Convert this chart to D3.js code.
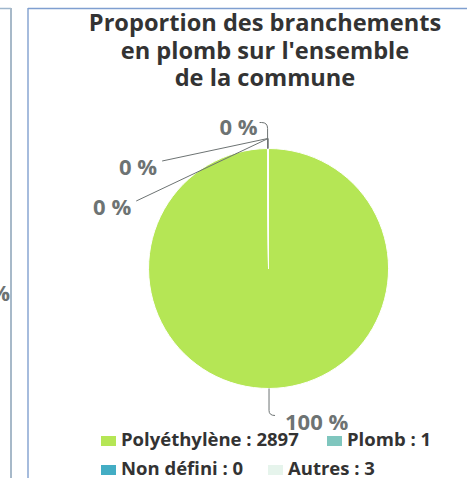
<!DOCTYPE html>
<html>
<head>
<meta charset="utf-8">
<script src="https://cdn.jsdelivr.net/npm/d3@7"></script>
<style>
  body { margin: 0; background: #fff; }
  text { font-family: "Open Sans", "Noto Sans", sans-serif; font-weight: bold; }
</style>
</head>
<body>
<script>
var width = 467,
    height = 478;

// data
var categories = ['Polyéthylène', 'Plomb', 'Non défini', 'Autres'];
var values = [2897, 1, 0, 3];
var colors = ['#b5e655', '#7fc6be', '#43adc4', '#e6f4ec'];
var titleLines = ['Proportion des branchements', "en plomb sur l'ensemble", 'de la commune'];

var svg = d3.select('body')
            .append('svg')
            .attr('width', width)
            .attr('height', height);

// panel borders (left panel cut off, current panel)
svg.append('line').attr('x1', 0).attr('x2', 11).attr('y1', 8.5).attr('y2', 8.5)
    .attr('stroke', '#9fb6cc').attr('stroke-width', 1.5);
svg.append('line').attr('x1', 11).attr('x2', 11).attr('y1', 8).attr('y2', height)
    .attr('stroke', '#a7b9c9').attr('stroke-width', 2);
svg.append('line').attr('x1', 28).attr('x2', 28).attr('y1', 8).attr('y2', height)
    .attr('stroke', '#89a6d2').attr('stroke-width', 1.5);
svg.append('line').attr('x1', 28).attr('x2', width).attr('y1', 8.5).attr('y2', 8.5)
    .attr('stroke', '#7f9fd0').attr('stroke-width', 1.5);

// bit of the neighbouring chart's label
svg.append('text').attr('x', 10).attr('y', 301).attr('text-anchor', 'end')
    .attr('font-size', 22).attr('fill', '#6d7373').text('%');

// title
svg.append('g').selectAll('text')
    .data(titleLines)
    .enter().append('text')
    .attr('x', 265)
    .attr('y', (d, i) => 31 + i * 27.5)
    .attr('text-anchor', 'middle')
    .attr('font-size', 23.6)
    .attr('fill', '#333')
    .text(d => d);

// pie
var cx = 268.5, cy = 268.5, r = 120;
var total = d3.sum(values);
var data = categories.map((c, i) => ({name: c, value: values[i], color: colors[i]}));

var pie = d3.pie().sort(null).value(d => d.value);
var arcs = pie(data);
var arc = d3.arc().innerRadius(0).outerRadius(r);

var g = svg.append('g').attr('transform', 'translate(' + cx + ',' + cy + ')');

g.selectAll('path')
    .data(arcs)
    .enter().append('path')
    .attr('d', arc)
    .attr('fill', d => d.data.color)
    .attr('stroke', '#fff')
    .attr('stroke-width', 1);

// data labels
var pct = d => Math.round(d.data.value / total * 100) + ' %';
var R = r + 30;
var leftIdx = 0;
var labelG = svg.append('g');

arcs.forEach(function(d) {
  var a = (d.startAngle + d.endAngle) / 2;
  var ex = cx + r * Math.sin(a), ey = cy - r * Math.cos(a);
  var path, lx, ly, anchor;
  if (Math.sin(a) >= -0.5 && Math.cos(a) < 0) {
    // bottom label, goes right
    lx = ex + 16; ly = ey + 42; anchor = 'start';
    path = 'M' + ex + ',' + ey + 'V' + (ey + 22) + 'Q' + ex + ',' + (ey + 27) + ' ' + (ex + 6) + ',' + (ey + 27);
  } else {
    // small slices near the top, stacked to the left
    var i = leftIdx++;
    ly = cy - r - 13.5 + i * 40;
    var mid = ly - 7;
    if (i === 0) {
      lx = ex - 10;
      path = 'M' + ex + ',' + ey + 'V' + (ey - 20) + 'Q' + ex + ',' + (ey - 26) + ' ' + (ex - 6) + ',' + (ey - 26) + 'H' + (lx + 2);
    } else {
      lx = cx - Math.sqrt(R * R - (mid - cy) * (mid - cy));
      path = 'M' + ex + ',' + ey + 'V' + (ey - 10) + 'L' + (lx + 5) + ',' + (ly - 14);
    }
    anchor = 'end';
  }
  labelG.append('path').attr('d', path).attr('fill', 'none')
      .attr('stroke', '#6d7373').attr('stroke-width', 1);
  labelG.append('text').attr('x', lx).attr('y', ly)
      .attr('text-anchor', anchor).attr('font-size', 22)
      .attr('fill', '#6d7373')
      .attr('stroke', '#fff').attr('stroke-width', 2).attr('paint-order', 'stroke')
      .text(pct(d));
});

// legend
var legendPos = [[101, 446], [327, 446], [101, 475], [268, 475]];
var legend = svg.append('g').selectAll('g')
    .data(data)
    .enter().append('g')
    .attr('transform', (d, i) => 'translate(' + legendPos[i][0] + ',' + legendPos[i][1] + ')');
legend.append('rect').attr('x', 0).attr('y', -10).attr('width', 15).attr('height', 10)
    .attr('fill', d => d.color);
legend.append('text').attr('x', 20).attr('y', 0)
    .attr('font-size', 18.5).attr('fill', '#333')
    .text(d => d.name + ' : ' + d.value);
</script>
</body>
</html>
